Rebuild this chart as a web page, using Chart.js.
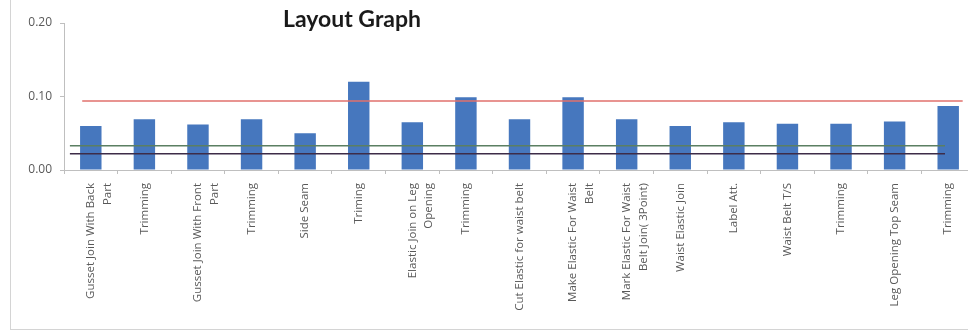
<!DOCTYPE html>
<html>
<head>
<meta charset="utf-8">
<script src="https://cdn.jsdelivr.net/npm/chart.js@4"></script>
<style>
    html, body { margin: 0; padding: 0; background: #fff; overflow: hidden; }
    #wrap { position: relative; width: 985px; height: 331px; }
    #frame { position: absolute; left: 10px; top: 0; width: 980px; height: 329px;
             border-left: 1px solid #d4d4d4; border-bottom: 1px solid #d4d4d4; pointer-events: none; }
    #title { position: absolute; left: 232px; width: 240px; top: 4px; text-align: center;
             font: bold 23px Lato, "Open Sans", sans-serif; color: #1a1a1a; }
</style>
</head>
<body>
<div id="wrap">
    <canvas id="layoutChart" width="985" height="331"></canvas>
    <div id="frame"></div>
    <div id="title">Layout Graph</div>
</div>
<script>
// operations on the layout, in sequence
const operations = [
    ["Gusset Join With Back", "Part"], "Trimming", ["Gusset Join With Front", "Part"], "Trimming",
    "Side Seam", "Triming", ["Elastic Join on Leg", "Opening"], "Trimming",
    "Cut Elastic for waist belt", ["Make Elastic For Waist", "Belt"],
    ["Mark Elastic For Waist", "Belt Join( 3Point)"], "Waist Elastic Join", "Label Att.",
    "Waist Belt T/S", "Trimming", "Leg Opening Top Seam", "Trimming"
];
// cycle time per operation
const cycleTimes = [0.060, 0.069, 0.062, 0.069, 0.050, 0.120, 0.065, 0.099, 0.069,
                    0.099, 0.069, 0.060, 0.065, 0.063, 0.063, 0.066, 0.087];
const yTicks = [0, 0.10, 0.20];

// reference lines: level and start/end (in operation index units)
const upperLimit = 0.094;
const upperSpan = [-0.16, 16.27];
const targetLevel = 0.033;
const lowerLimit = 0.022;
const lowerSpan = [-0.39, 15.94];

function hLine(level, span, color) {
    return {
        type: 'line',
        xAxisID: 'xl',
        data: span.map(x => ({x: x, y: level})),
        borderColor: color,
        borderWidth: 1.5,
        pointRadius: 0,
        order: 0
    };
}

Chart.defaults.font.family = '"Open Sans", sans-serif';
Chart.defaults.color = '#595959';

var ctx = document.getElementById("layoutChart");
var layoutChart = new Chart(ctx, {
    type: 'bar',
    data: {
        labels: operations,
        datasets: [
            {
                label: "Cycle time",
                data: cycleTimes,
                backgroundColor: "#4677be",
                grouped: false,
                barPercentage: 0.4,
                categoryPercentage: 1.0,
                order: 1
            },
            hLine(upperLimit, upperSpan, "#e0706c"),
            hLine(targetLevel, lowerSpan, "#5b7f62"),
            hLine(lowerLimit, lowerSpan, "#3d2c48")
        ]
    },
    options: {
        responsive: false,
        animation: false,
        layout: { padding: { top: 23, right: 10, left: 0, bottom: 0 } },
        plugins: {
            legend: { display: false },
            tooltip: { enabled: false }
        },
        scales: {
            x: {
                grid: {
                    offset: true,
                    drawOnChartArea: false,
                    tickLength: 4,
                    color: "#bfbfbf"
                },
                border: { color: "#bfbfbf" },
                ticks: {
                    minRotation: 90,
                    maxRotation: 90,
                    autoSkip: false,
                    padding: 9,
                    font: { size: 11.5, lineHeight: 1.45 }
                },
                afterFit: function (scale) { scale.height = 161; }
            },
            // hidden linear axis so the reference lines can start/stop between categories
            xl: {
                type: 'linear',
                display: false,
                offset: false,
                grid: { offset: false },
                min: -0.5,
                max: operations.length - 0.5
            },
            y: {
                min: 0,
                max: 0.20,
                afterBuildTicks: function (scale) {
                    scale.ticks = yTicks.map(v => ({value: v}));
                },
                grid: {
                    drawOnChartArea: false,
                    tickLength: 4,
                    color: "#bfbfbf"
                },
                border: { color: "#bfbfbf" },
                ticks: {
                    padding: 8,
                    font: { size: 12 },
                    callback: v => v.toFixed(2)
                },
                afterFit: function (scale) { scale.width = 64; }
            }
        }
    }
});
</script>
</body>
</html>
